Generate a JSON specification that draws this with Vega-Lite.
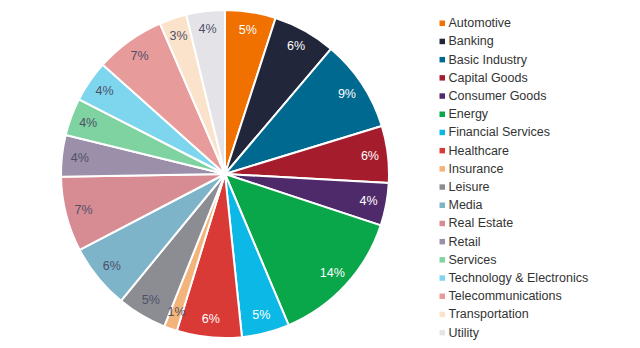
{
  "$schema": "https://vega.github.io/schema/vega-lite/v6.json",
  "width": 450,
  "height": 348,
  "padding": {"left": 0, "top": 0, "bottom": 0, "right": 190},
  "autosize": "none",
  "background": "white",
  "config": {"view": {"stroke": null}, "font": "Liberation Sans"},
  "data": {"values": [
    {"i": 1, "sector": "Automotive", "share": 0.050},
    {"i": 2, "sector": "Banking", "share": 0.062},
    {"i": 3, "sector": "Basic Industry", "share": 0.091},
    {"i": 4, "sector": "Capital Goods", "share": 0.056},
    {"i": 5, "sector": "Consumer Goods", "share": 0.042},
    {"i": 6, "sector": "Energy", "share": 0.136},
    {"i": 7, "sector": "Financial Services", "share": 0.047},
    {"i": 8, "sector": "Healthcare", "share": 0.064},
    {"i": 9, "sector": "Insurance", "share": 0.013},
    {"i": 10, "sector": "Leisure", "share": 0.049},
    {"i": 11, "sector": "Media", "share": 0.064},
    {"i": 12, "sector": "Real Estate", "share": 0.074},
    {"i": 13, "sector": "Retail", "share": 0.041},
    {"i": 14, "sector": "Services", "share": 0.037},
    {"i": 15, "sector": "Technology & Electronics", "share": 0.041},
    {"i": 16, "sector": "Telecommunications", "share": 0.069},
    {"i": 17, "sector": "Transportation", "share": 0.027},
    {"i": 18, "sector": "Utility", "share": 0.038}
  ]},
  "encoding": {
    "theta": {"field": "share", "type": "quantitative", "stack": true},
    "order": {"field": "i", "type": "quantitative"}
  },
  "layer": [
    {
      "mark": {"type": "arc", "outerRadius": 164, "stroke": "white", "strokeWidth": 2},
      "encoding": {
        "color": {
          "field": "sector", "type": "nominal",
          "scale": {
            "domain": ["Automotive", "Banking", "Basic Industry", "Capital Goods", "Consumer Goods", "Energy", "Financial Services", "Healthcare", "Insurance", "Leisure", "Media", "Real Estate", "Retail", "Services", "Technology & Electronics", "Telecommunications", "Transportation", "Utility"],
            "range": ["#F07000", "#22263A", "#00698F", "#A51D2D", "#4F2A6B", "#0AA64A", "#0BB8E6", "#D93A35", "#F2B47A", "#8C8C93", "#7DB4CA", "#D78C93", "#9C8FAA", "#7FD3A0", "#7ED6EE", "#E89B9B", "#FBE3CB", "#E4E4E8"]
          },
          "legend": {
            "title": null,
            "orient": "none",
            "legendX": 436,
            "legendY": 17,
            "symbolType": "square",
            "symbolSize": 30,
            "symbolStrokeWidth": 0,
            "labelFontSize": 12.5,
            "labelColor": "#333333",
            "labelOffset": 0,
            "rowPadding": 5.2,
            "labelLimit": 250
          }
        }
      }
    },
    {
      "mark": {"type": "text", "radius": 146, "fontSize": 12.5, "font": "Liberation Sans"},
      "encoding": {
        "text": {"field": "share", "type": "quantitative", "format": ".0%"},
        "color": {
          "condition": {"test": "indexof(['Automotive','Banking','Basic Industry','Capital Goods','Consumer Goods','Energy','Financial Services','Healthcare'], datum.sector) >= 0", "value": "white"},
          "value": "#4F5068"
        }
      }
    }
  ]
}
